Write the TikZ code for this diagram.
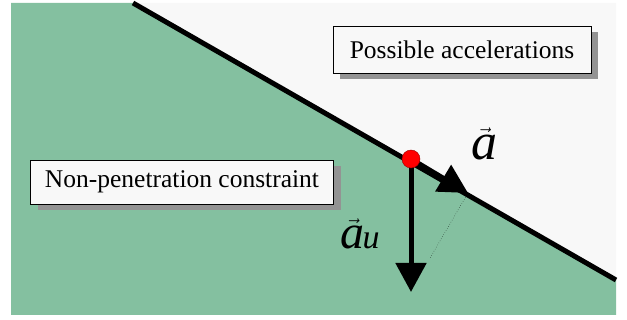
\documentclass[tikz,border=0pt]{standalone}
\usepackage{fontspec}
\setmainfont{Liberation Serif}
\usepackage{amsmath}
\usetikzlibrary{arrows.meta,shadows}

\definecolor{ground}{RGB}{132,192,160}
\definecolor{paper}{RGB}{248,248,248}

\tikzset{
  label box/.style={draw=black, thin, fill=paper, inner sep=0pt,
    drop shadow={shadow xshift=7pt, shadow yshift=-6pt, fill=gray!85, opacity=1}},
  big arrow/.style={line width=5pt, -{Triangle[width=30pt,length=29pt]}}
}

\begin{document}
\begin{tikzpicture}[x=1pt,y=-1pt]
  \useasboundingbox (0,0) rectangle (627,320);

  % Regions
  \fill[ground] (11,3) -- (133,3) -- (616,280) -- (616,315) -- (11,315) -- cycle;
  \fill[paper] (133,3) -- (616,3) -- (616,280) -- cycle;

  % Constraint line
  \coordinate (top) at (133,3);
  \coordinate (bot) at (616,280);
  \draw[line width=5pt] (top) -- (bot);

  % Boxes
  \node[label box, minimum width=258pt, minimum height=47pt] (possible) at (462,50)
    {\fontsize{25.5}{28}\selectfont Possible accelerations};
  \node[label box, minimum width=303pt, minimum height=44pt] (nonpen) at (182,182)
    {\fontsize{25.5}{28}\selectfont Non-penetration constraint};

  % Accelerations
  \coordinate (utip) at (411,292);
  \coordinate (atip) at (468,193);
  \coordinate (proj) at (430,258);
  \draw[big arrow] (411,159) -- (utip);
  \draw[big arrow] (411,159) -- (atip);
  \draw[dotted, thin] (atip) -- (proj);

  % Contact point
  \node[circle, fill=red, draw=red!60!black, thin, minimum size=18pt, inner sep=0pt] (contact) at (411,159) {};

  % Labels
  \node (alabel) at (484,144) {\fontsize{52}{54}\selectfont $\vec{\mbox{\itshape a}}$};
  \node (aulabel) at (360,234) {\fontsize{48}{50}\selectfont $\vec{\mbox{\itshape a}}$\kern-2pt{\fontsize{34}{36}\selectfont\itshape u}};
\end{tikzpicture}
\end{document}
